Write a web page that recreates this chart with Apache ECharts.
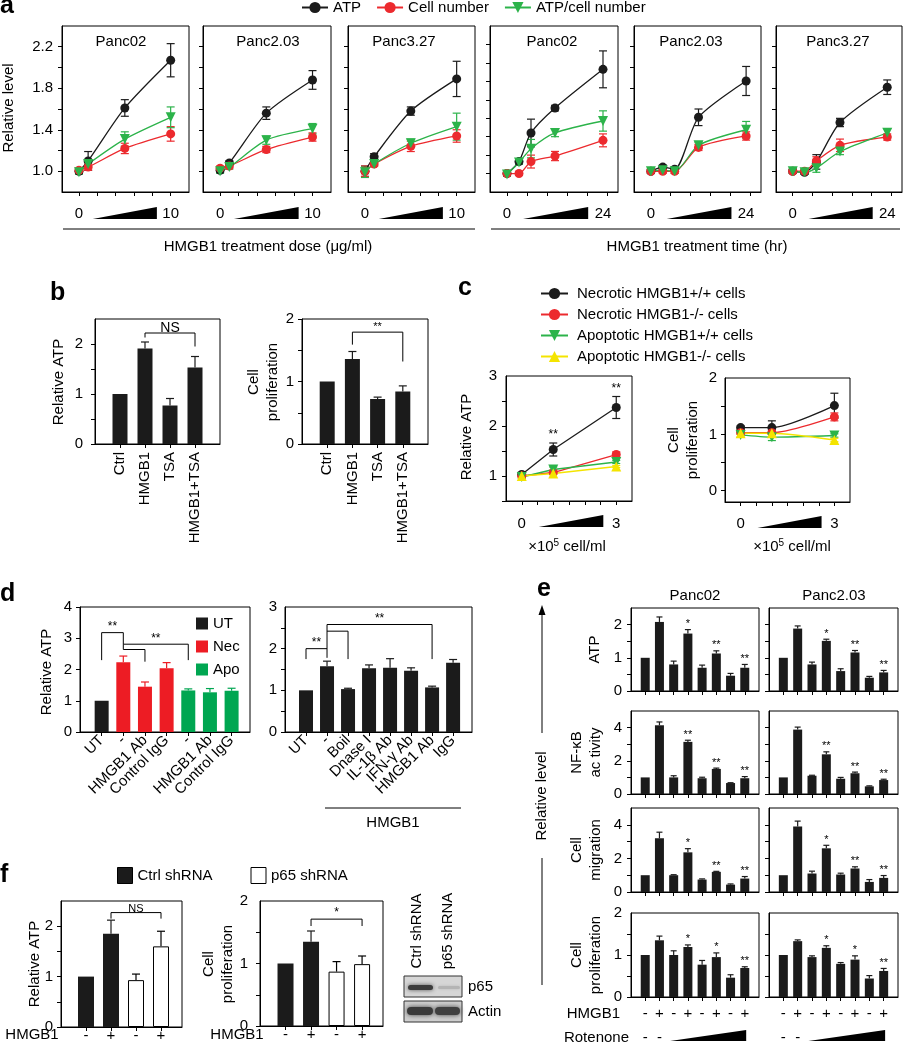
<!DOCTYPE html>
<html>
<head>
<meta charset="utf-8">
<script src="https://cdn.jsdelivr.net/npm/echarts@6/dist/echarts.min.js"></script>
<style>
  html, body { margin: 0; padding: 0; background: #fff; }
  #chart { width: 904px; height: 1050px; }
</style>
</head>
<body>
<div id="chart"></div>
<script>
// ---------- data ----------
// a: dose (ug/ml) and time (hr) course, one row per cell line
const doseX = [0, 1, 5, 10];
const timeX = [0, 3, 6, 12, 24];
const aCellLines = ['Panc02', 'Panc2.03', 'Panc3.27'];
const doseTicks = [0, 2, 4, 6, 8, 10];
const timeTicks = [0, 5, 10, 15, 20, 25];
const aYTicks = [1.0, 1.2, 1.4, 1.6, 1.8, 2.0, 2.2, 2.4];
const aYLabels = ['1.0', '1.4', '1.8', '2.2'];

const doseAtp = [[1.00, 1.10, 1.61, 2.07], [1.01, 1.08, 1.56, 1.88], [1.00, 1.14, 1.58, 1.89]];
const doseAtpErr = [[0.02, 0.09, 0.08, 0.16], [0.02, 0.02, 0.06, 0.09], [0.05, 0.03, 0.04, 0.17]];
const doseCell = [[1.01, 1.04, 1.22, 1.36], [1.03, 1.05, 1.21, 1.33], [1.00, 1.07, 1.24, 1.34]];
const doseCellErr = [[0.02, 0.03, 0.05, 0.07], [0.02, 0.02, 0.03, 0.04], [0.05, 0.02, 0.05, 0.06]];
const doseRatio = [[0.99, 1.07, 1.31, 1.52], [1.00, 1.04, 1.30, 1.41], [0.99, 1.07, 1.27, 1.43]];
const doseRatioErr = [[0.02, 0.03, 0.07, 0.10], [0.02, 0.02, 0.04, 0.05], [0.05, 0.02, 0.04, 0.13]];

const timeAtp = [[1.00, 1.13, 1.44, 1.71, 2.13], [1.00, 1.04, 1.02, 1.52, 1.87], [1.00, 0.99, 1.09, 1.47, 1.81]];
const timeAtpErr = [[0.02, 0.03, 0.15, 0.03, 0.20], [0.02, 0.02, 0.02, 0.08, 0.14], [0.02, 0.02, 0.07, 0.04, 0.07]];
const timeCell = [[1.00, 1.00, 1.13, 1.19, 1.36], [1.00, 1.00, 1.00, 1.23, 1.34], [1.00, 1.00, 1.10, 1.25, 1.33]];
const timeCellErr = [[0.02, 0.02, 0.07, 0.05, 0.07], [0.02, 0.02, 0.02, 0.03, 0.04], [0.02, 0.02, 0.04, 0.06, 0.03]];
const timeRatio = [[0.99, 1.12, 1.27, 1.44, 1.57], [1.00, 1.01, 1.00, 1.25, 1.40], [1.00, 0.99, 1.03, 1.19, 1.37]];
const timeRatioErr = [[0.02, 0.02, 0.10, 0.04, 0.11], [0.02, 0.02, 0.02, 0.03, 0.08], [0.02, 0.02, 0.04, 0.03, 0.04]];

// b: TSA
const bGroups = ['Ctrl', 'HMGB1', 'TSA', 'HMGB1+TSA'];
const bAtp = [1.0, 1.91, 0.77, 1.53];
const bAtpErr = [0, 0.13, 0.14, 0.22];
const bProlif = [1.0, 1.36, 0.72, 0.84];
const bProlifErr = [0, 0.12, 0.03, 0.09];

// c: dead cells, x10^5 cell/ml
const cX = [0, 1, 3];
const cNames = ['Necrotic HMGB1+/+ cells', 'Necrotic HMGB1-/- cells', 'Apoptotic HMGB1+/+ cells', 'Apoptotic HMGB1-/- cells'];
const cAtp = [[1.03, 1.53, 2.37], [1.00, 1.07, 1.43], [0.98, 1.13, 1.28], [1.00, 1.05, 1.19]];
const cAtpErr = [[0.03, 0.13, 0.22], [0.02, 0.03, 0.05], [0.03, 0.05, 0.03], [0.02, 0.02, 0.02]];
const cProlif = [[1.12, 1.12, 1.51], [1.03, 1.03, 1.31], [0.99, 0.95, 0.98], [1.02, 1.02, 0.90]];
const cProlifErr = [[0.03, 0.12, 0.22], [0.02, 0.03, 0.07], [0.04, 0.06, 0.03], [0.02, 0.02, 0.03]];
const cAtpStars = ['', '**', '**'];

// d: blocking
const dLeftLabels = ['UT', '-', 'HMGB1 Ab', 'Control IgG', '-', 'HMGB1 Ab', 'Control IgG'];
const dLeftGroup = ['UT', 'Nec', 'Nec', 'Nec', 'Apo', 'Apo', 'Apo'];
const dLeftAtp = [1.0, 2.23, 1.45, 2.04, 1.33, 1.27, 1.32];
const dLeftErr = [0, 0.20, 0.15, 0.18, 0.05, 0.12, 0.08];
const dRightLabels = ['UT', '-', 'Boil', 'Dnase I', 'IL-1β Ab', 'IFN-γ Ab', 'HMGB1 Ab', 'IgG'];
const dRightAtp = [1.0, 1.58, 1.03, 1.53, 1.54, 1.47, 1.07, 1.66];
const dRightErr = [0, 0.12, 0.02, 0.08, 0.22, 0.07, 0.03, 0.08];

// e: rotenone, Panc02 / Panc2.03
const eCellLines = ['Panc02', 'Panc2.03'];
const eRowNames = ['ATP', 'NF-κB\nac tivity', 'Cell\nmigration', 'Cell\nproliferation'];
const eHmgb1 = ['-', '+', '-', '+', '-', '+', '-', '+'];
const eRotenone = ['-', '-', '', '', '', '', '', ''];
const eAtp02 = [1.0, 2.08, 0.80, 1.73, 0.70, 1.13, 0.46, 0.70];
const eAtp02Err = [0, 0.15, 0.10, 0.12, 0.08, 0.08, 0.07, 0.10];
const eAtp203 = [1.0, 1.88, 0.80, 1.51, 0.60, 1.16, 0.40, 0.56];
const eAtp203Err = [0, 0.08, 0.07, 0.05, 0.07, 0.06, 0.04, 0.06];
const eNfkb02 = [1.0, 4.14, 1.00, 3.14, 0.95, 1.51, 0.66, 0.95];
const eNfkb02Err = [0, 0.20, 0.10, 0.10, 0.06, 0.05, 0.02, 0.10];
const eNfkb203 = [1.0, 3.88, 1.10, 2.39, 0.92, 1.25, 0.46, 0.84];
const eNfkb203Err = [0, 0.15, 0.03, 0.15, 0.08, 0.07, 0.03, 0.05];
const eMig02 = [1.0, 3.20, 1.00, 2.36, 0.74, 1.20, 0.44, 0.80];
const eMig02Err = [0, 0.36, 0.03, 0.22, 0.04, 0.03, 0.04, 0.12];
const eMig203 = [1.0, 3.90, 1.10, 2.60, 1.04, 1.40, 0.60, 0.84];
const eMig203Err = [0, 0.32, 0.14, 0.18, 0.08, 0.10, 0.14, 0.14];
const ePro02 = [1.0, 1.35, 1.00, 1.19, 0.77, 0.95, 0.46, 0.69];
const ePro02Err = [0, 0.10, 0.10, 0.05, 0.10, 0.10, 0.07, 0.03];
const ePro203 = [1.0, 1.33, 0.95, 1.17, 0.79, 0.89, 0.44, 0.62];
const ePro203Err = [0, 0.03, 0.03, 0.05, 0.03, 0.09, 0.07, 0.06];
const eStarsAtp = ['', '', '', '*', '', '**', '', '**'];
const eStarsNfkb = ['', '', '', '**', '', '**', '', '**'];
const eStarsMig = ['', '', '', '*', '', '**', '', '**'];
const eStarsPro = ['', '', '', '*', '', '*', '', '**'];

// f: p65 knockdown
const fHmgb1 = ['-', '+', '-', '+'];
const fAtp = [1.0, 1.85, 0.93, 1.60];
const fAtpErr = [0, 0.27, 0.12, 0.30];
const fProlif = [1.0, 1.35, 0.87, 0.99];
const fProlifErr = [0, 0.17, 0.16, 0.13];

// ---------- helpers ----------
const FONT = '"Liberation Sans", Arial, Helvetica, sans-serif';
const BLACK = '#1b1b1b';
const RED = '#ec2a2e';
const GREEN = '#2cb34a';
const YELLOW = '#f4e400';
const D_RED = '#ed1c24';
const D_GREEN = '#00a651';

const grids = [], xAxes = [], yAxes = [], series = [], graphic = [];

function makeAxis (gi, o) {
	const labels = o.labels || [];
	const ax = {
		type: 'value', gridIndex: gi, min: o.min, max: o.max,
		axisLine: {show: true, onZero: false, lineStyle: {color: '#000', width: 1}},
		axisTick: {show: true, length: 4, lineStyle: {color: '#000', width: 1}},
		axisLabel: {
			show: labels.length > 0, margin: o.margin, rotate: o.rotate || 0,
			fontSize: o.fontSize || 15, fontFamily: FONT, color: '#000',
			formatter: function (v) {
				const p = labels.filter((l) => Math.abs(l[0] - v) < 1e-6)[0];
				return p ? p[1] : '';
			}
		},
		splitLine: {show: false}
	};
	if (o.ticks) ax.axisTick.customValues = o.ticks;
	if (labels.length) ax.axisLabel.customValues = labels.map((l) => l[0]);
	if (o.lineHeight) ax.axisLabel.lineHeight = o.lineHeight;
	return ax;
}

function addGrid (box, xo, yo) {
	const gi = grids.length;
	grids.push({left: box[0], top: box[1], width: box[2], height: box[3], show: true,
		borderColor: '#000', borderWidth: 1, backgroundColor: 'rgba(0,0,0,0)'});
	xAxes.push(makeAxis(gi, xo));
	yAxes.push(makeAxis(gi, yo));
	return gi;
}

function errRender (upOnly, cap) {
	return function (params, api) {
		const x = api.value(0), y = api.value(1), e = api.value(2);
		if (!e) return null;
		const hi = api.coord([x, y + e]);
		const lo = api.coord([x, upOnly ? y : y - e]);
		const st = {stroke: api.visual('color'), lineWidth: 1.2, fill: null};
		const kids = [
			{type: 'line', shape: {x1: hi[0], y1: hi[1], x2: lo[0], y2: lo[1]}, style: st},
			{type: 'line', shape: {x1: hi[0] - cap, y1: hi[1], x2: hi[0] + cap, y2: hi[1]}, style: st}
		];
		if (!upOnly) kids.push({type: 'line', shape: {x1: lo[0] - cap, y1: lo[1], x2: lo[0] + cap, y2: lo[1]}, style: st});
		return {type: 'group', children: kids};
	};
}

function lineGroup (gi, name, xs, ys, errs, color, symbol, rotate, smooth) {
	series.push({type: 'custom', name: 'err', xAxisIndex: gi, yAxisIndex: gi, silent: true,
		renderItem: errRender(false, 4), itemStyle: {color},
		data: xs.map((x, k) => [x, ys[k], errs[k]])});
	series.push({type: 'line', name, xAxisIndex: gi, yAxisIndex: gi,
		data: xs.map((x, k) => [x, ys[k]]),
		symbol, symbolSize: symbol === 'circle' ? 9 : 10, symbolRotate: rotate, smooth: smooth || false,
		showAllSymbol: true, itemStyle: {color, borderWidth: 0}, lineStyle: {color, width: 1.3}});
}

function barGroup (gi, name, xs, ys, errs, color, width, cap, border) {
	series.push({type: 'bar', name, xAxisIndex: gi, yAxisIndex: gi, barWidth: width, barGap: '-100%',
		data: xs.map((x, k) => [x, ys[k]]),
		itemStyle: {color, borderColor: border || color, borderWidth: border ? 1 : 0}});
	series.push({type: 'custom', name: 'err', xAxisIndex: gi, yAxisIndex: gi, silent: true,
		renderItem: errRender(true, cap), itemStyle: {color: border || color},
		data: xs.map((x, k) => [x, ys[k], errs[k]])});
}

// [x1, x2, yTop, yLeftEnd, yRightEnd, label]
function bracket (gi, items, fontSize) {
	series.push({type: 'custom', name: 'bracket', xAxisIndex: gi, yAxisIndex: gi, silent: true, z: 5,
		data: items.map((b) => b.slice(0, 5)),
		renderItem: function (params, api) {
			const b = items[params.dataIndex];
			const l = api.coord([b[0], b[3]]), tl = api.coord([b[0], b[2]]);
			const tr = api.coord([b[1], b[2]]), r = api.coord([b[1], b[4]]);
			const kids = [{type: 'polyline', shape: {points: [l, tl, tr, r]}, style: {stroke: '#000', lineWidth: 1, fill: null}}];
			if (b[5]) {
				kids.push({type: 'text', x: (tl[0] + tr[0]) / 2, y: tl[1] + (/[A-Z]/.test(b[5]) ? 2 : 0),
					style: {text: b[5], fontSize, fontFamily: FONT, fill: '#000', align: 'center', verticalAlign: 'bottom'}});
			}
			return {type: 'group', children: kids};
		}});
}

function stars (gi, xs, tops, labels, gap, size) {
	series.push({type: 'custom', name: 'stars', xAxisIndex: gi, yAxisIndex: gi, silent: true, z: 5,
		data: xs.map((x, k) => [x, tops[k]]),
		renderItem: function (params, api) {
			const s = labels[params.dataIndex];
			if (!s) return null;
			const p = api.coord([api.value(0), api.value(1)]);
			return {type: 'text', x: p[0], y: p[1] - gap,
				style: {text: s, fontSize: size || 12, fontFamily: FONT, fill: '#000', align: 'center', verticalAlign: 'bottom'}};
		}});
}

// black ramp under the x axis, from x0 to x1, d0..d1 px below the plot
function wedge (gi, x0, x1, d0, d1) {
	series.push({type: 'custom', name: 'wedge', xAxisIndex: gi, yAxisIndex: gi, silent: true,
		data: [[x0, x1]],
		renderItem: function (params, api) {
			const bottom = params.coordSys.y + params.coordSys.height;
			const a = api.coord([x0, 1])[0], b = api.coord([x1, 1])[0];
			return {type: 'polygon', shape: {points: [[a, bottom + d1], [b, bottom + d1], [b, bottom + d0]]}, style: {fill: '#000'}};
		}});
}

function hText (x, y, text, o) {
	graphic.push({type: 'text', x, y, style: Object.assign({text, fontSize: 15, fontFamily: FONT, fill: '#000',
		align: 'center', verticalAlign: 'middle'}, o || {})});
}
function vText (x, y, text, size) {
	graphic.push({type: 'text', x, y, rotation: Math.PI / 2, style: {text, fontSize: size || 15, fontFamily: FONT,
		fill: '#000', align: 'center', verticalAlign: 'middle', lineHeight: 19}});
}
function hLine (x1, y1, x2, y2) {
	graphic.push({type: 'line', shape: {x1, y1, x2, y2}, style: {stroke: '#000', lineWidth: 1}});
}
function letter (x, y, s) {
	hText(x, y, s, {fontSize: 25, fontWeight: 'bold', align: 'left', verticalAlign: 'bottom'});
}
const pairs = (vals, fmt) => vals.map((v) => [v, fmt ? fmt(v) : String(v)]);
const seq = (n) => Array.from({length: n}, (_, i) => i + 1);

// ---------- a ----------
const aBoxes = [[62, 26, 127, 166], [203, 26, 128, 166], [348, 26, 127, 166],
	[490, 26, 128, 166], [634, 26, 127, 166], [776, 26, 126, 166]];
const aTitleX = [121, 268, 404, 552, 691, 838];
aBoxes.forEach(function (box, k) {
	const isTime = k >= 3;
	const c = k % 3;
	const yMax = k === 3 ? 2.6 : 2.4;
	const gi = addGrid(box,
		isTime ? {min: -4.25, max: 27.75, ticks: timeTicks, labels: [[0, '0'], [24, '24']], margin: 14}
			: {min: -1.85, max: 12, ticks: doseTicks, labels: [[0, '0'], [10, '10']], margin: 14},
		{min: 0.8, max: yMax, ticks: aYTicks.filter((v) => v < yMax - 0.1),
			labels: k === 0 ? aYLabels.map((s) => [parseFloat(s), s]) : [], margin: 9});
	const xs = isTime ? timeX : doseX;
	lineGroup(gi, 'ATP', xs, (isTime ? timeAtp : doseAtp)[c], (isTime ? timeAtpErr : doseAtpErr)[c], BLACK, 'circle', 0, 0.25);
	lineGroup(gi, 'Cell number', xs, (isTime ? timeCell : doseCell)[c], (isTime ? timeCellErr : doseCellErr)[c], RED, 'circle', 0, 0.25);
	lineGroup(gi, 'ATP/cell number', xs, (isTime ? timeRatio : doseRatio)[c], (isTime ? timeRatioErr : doseRatioErr)[c], GREEN, 'triangle', 180, 0.25);
	if (isTime) wedge(gi, 4, 20.3, 15, 27); else wedge(gi, 1.5, 8.5, 15, 27);
	hText(aTitleX[k], 42, aCellLines[c]);
});
letter(0, 19, 'a');
vText(9, 108, 'Relative level');
hLine(63, 229, 475, 229);
hLine(491, 229, 900, 229);
hText(268, 247, 'HMGB1 treatment dose (μg/ml)');
hText(697, 247, 'HMGB1 treatment time (hr)');

// ---------- b ----------
const bx = [1, 2, 3, 4];
const bGi1 = addGrid([95, 319, 125, 125],
	{min: 0, max: 5, ticks: bx, labels: bGroups.map((g, i) => [i + 1, g]), rotate: 90, margin: 8},
	{min: 0, max: 2.5, ticks: [0, 0.5, 1, 1.5, 2], labels: pairs([0, 1, 2]), margin: 12});
barGroup(bGi1, 'b-atp', bx, bAtp, bAtpErr, BLACK, 15, 4);
bracket(bGi1, [[2, 4, 2.22, 2.13, 1.95, 'NS']], 14);
const bGi2 = addGrid([302, 319, 126, 125],
	{min: 0, max: 5, ticks: bx, labels: bGroups.map((g, i) => [i + 1, g]), rotate: 90, margin: 8},
	{min: 0, max: 2, ticks: [0, 0.5, 1, 1.5, 2], labels: pairs([0, 1, 2]), margin: 8});
barGroup(bGi2, 'b-pro', bx, bProlif, bProlifErr, BLACK, 15, 4);
bracket(bGi2, [[2, 4, 1.79, 1.59, 1.32, '**']], 11);
letter(50, 306, 'b');
vText(59, 382, 'Relative ATP');
vText(263, 382, 'Cell\nproliferation');

// ---------- c ----------
const cColors = [BLACK, RED, GREEN, YELLOW];
const cSymbols = [['circle', 0], ['circle', 0], ['triangle', 180], ['triangle', 0]];
const cGi1 = addGrid([506, 376, 126, 125],
	{min: -0.5, max: 3.5, ticks: [0, 0.5, 1, 1.5, 2, 2.5, 3], labels: [[0, '0'], [3, '3']], margin: 15},
	{min: 0.5, max: 3, ticks: [0.5, 1, 1.5, 2, 2.5], labels: pairs([1, 2, 3]), margin: 9});
const cGi2 = addGrid([725, 378, 125, 124],
	{min: -0.5, max: 3.5, ticks: [0, 0.5, 1, 1.5, 2, 2.5, 3], labels: [[0, '0'], [3, '3']], margin: 14},
	{min: -0.2, max: 2, ticks: [0, 0.5, 1, 1.5], labels: pairs([0, 1, 2]), margin: 8});
cNames.forEach(function (name, i) {
	lineGroup(cGi1, name, cX, cAtp[i], cAtpErr[i], cColors[i], cSymbols[i][0], cSymbols[i][1], false);
	lineGroup(cGi2, name, cX, cProlif[i], cProlifErr[i], cColors[i], cSymbols[i][0], cSymbols[i][1], 0.25);
});
stars(cGi1, cX, cAtp[0].map((v, k) => v + cAtpErr[0][k]), cAtpStars, 2, 12);
wedge(cGi1, 0.54, 2.59, 14, 26);
wedge(cGi2, 0.54, 2.59, 14, 26);
letter(458, 301, 'c');
vText(467, 437, 'Relative ATP');
vText(683, 440, 'Cell\nproliferation');
const cellMl = {rich: {sup: {fontSize: 10, fontFamily: FONT, padding: [0, 0, 8, 0]}}};
hText(567, 547, '×10{sup|5} cell/ml', cellMl);
hText(792, 547, '×10{sup|5} cell/ml', cellMl);

// ---------- d ----------
const dGi1 = addGrid([80, 607, 170, 125],
	{min: 0, max: 7.85, ticks: seq(7), labels: dLeftLabels.map((s, i) => [i + 1, s]), rotate: 45, margin: 6},
	{min: 0, max: 4, ticks: [0, 1, 2, 3, 4], labels: pairs([0, 1, 2, 3, 4]), margin: 8});
const dColors = {UT: BLACK, Nec: D_RED, Apo: D_GREEN};
['UT', 'Nec', 'Apo'].forEach(function (g) {
	const idx = dLeftGroup.map((v, i) => (v === g ? i : -1)).filter((i) => i >= 0);
	barGroup(dGi1, g, idx.map((i) => i + 1), idx.map((i) => dLeftAtp[i]), idx.map((i) => dLeftErr[i]), dColors[g], 14, 4);
});
bracket(dGi1, [[1, 2, 3.18, 2.30, 2.81, '**'], [2, 5, 2.81, 2.64, 2.30, '**'], [2, 3, 2.64, 2.64, 2.25, '']], 12);
const dGi2 = addGrid([285, 607, 187, 125],
	{min: 0, max: 8.9, ticks: seq(8), labels: dRightLabels.map((s, i) => [i + 1, s]), rotate: 45, margin: 6},
	{min: 0, max: 3, ticks: [0, 0.5, 1, 1.5, 2, 2.5], labels: pairs([0, 1, 2, 3]), margin: 8});
barGroup(dGi2, 'd-right', seq(8), dRightAtp, dRightErr, BLACK, 14, 4);
bracket(dGi2, [[1, 2, 2.0, 1.75, 2.0, '**'], [2, 7, 2.58, 1.78, 1.75, '**'], [2, 3, 2.42, 2.42, 1.75, '']], 12);
letter(0, 607, 'd');
vText(47, 672, 'Relative ATP');
hLine(325, 808, 461, 808);
hText(393, 823, 'HMGB1');

// ---------- e ----------
const eCols = [[631, 128], [769, 129]];
const eRows = [
	{top: 608, h: 83, max: 2.5, ticks: [0, 0.5, 1, 1.5, 2], labels: pairs([0, 1, 2])},
	{top: 711, h: 83, max: 5, ticks: [0, 1, 2, 3, 4], labels: pairs([0, 2, 4])},
	{top: 808, h: 84, max: 5, ticks: [0, 1, 2, 3, 4], labels: pairs([0, 2, 4])},
	{top: 913, h: 84, max: 2, ticks: [0, 0.5, 1, 1.5], labels: pairs([0, 1, 2])}
];
const eValues = [[eAtp02, eAtp203], [eNfkb02, eNfkb203], [eMig02, eMig203], [ePro02, ePro203]];
const eErrors = [[eAtp02Err, eAtp203Err], [eNfkb02Err, eNfkb203Err], [eMig02Err, eMig203Err], [ePro02Err, ePro203Err]];
const eStars = [eStarsAtp, eStarsNfkb, eStarsMig, eStarsPro];
const ex = seq(8);
eRows.forEach(function (row, r) {
	eCols.forEach(function (col, c) {
		const last = r === eRows.length - 1;
		const gi = addGrid([col[0], row.top, col[1], row.h],
			{min: 0, max: 9, ticks: ex, labels: last ? ex.map((x) => [x, eHmgb1[x - 1] + '\n' + (eRotenone[x - 1] || ' ')]) : [],
				margin: 5, lineHeight: 24},
			{min: 0, max: row.max, ticks: row.ticks, labels: c === 0 ? row.labels : [], margin: 9});
		const ys = eValues[r][c], es = eErrors[r][c];
		barGroup(gi, 'e-bars', ex, ys, es, BLACK, 9, 3);
		stars(gi, ex, ys.map((v, k) => v + es[k]), eStars[r], 0, 11);
		if (last) wedge(gi, 2.75, 8.1, 33, 44);
	});
	vText(r === 0 ? 595 : 586, row.top + row.h / 2, eRowNames[r]);
});
hText(695, 596, eCellLines[0]);
hText(834, 596, eCellLines[1]);
hText(620, 1014, 'HMGB1', {align: 'right'});
hText(629, 1038, 'Rotenone', {align: 'right'});
letter(537, 602, 'e');
hLine(542, 614, 542, 733);
graphic.push({type: 'polygon', shape: {points: [[542, 605], [538.5, 615], [545.5, 615]]}, style: {fill: '#000'}});
vText(542, 796, 'Relative level');
hLine(542, 858, 542, 985);

// ---------- f ----------
const fx = [1, 2, 3, 4];
const fGi1 = addGrid([61, 901, 121, 126],
	{min: 0, max: 4.84, ticks: fx, labels: fHmgb1.map((s, i) => [i + 1, s]), margin: 1},
	{min: 0, max: 2.5, ticks: [0, 0.5, 1, 1.5, 2], labels: pairs([0, 1, 2]), margin: 8});
barGroup(fGi1, 'Ctrl shRNA', [1, 2], fAtp.slice(0, 2), fAtpErr.slice(0, 2), BLACK, 16, 4);
barGroup(fGi1, 'p65 shRNA', [3, 4], fAtp.slice(2), fAtpErr.slice(2), '#fff', 16, 4, '#000');
bracket(fGi1, [[2, 4, 2.27, 2.15, 2.15, 'NS']], 11);
const fGi2 = addGrid([260, 901, 123, 125],
	{min: 0, max: 4.82, ticks: fx, labels: fHmgb1.map((s, i) => [i + 1, s]), margin: 1},
	{min: 0, max: 2, ticks: [0, 0.5, 1, 1.5], labels: pairs([0, 1, 2]), margin: 12});
barGroup(fGi2, 'Ctrl shRNA', [1, 2], fProlif.slice(0, 2), fProlifErr.slice(0, 2), BLACK, 16, 4);
barGroup(fGi2, 'p65 shRNA', [3, 4], fProlif.slice(2), fProlifErr.slice(2), '#fff', 16, 4, '#000');
bracket(fGi2, [[2, 4, 1.71, 1.60, 1.60, '*']], 12);
letter(0, 888, 'f');
vText(35, 964, 'Relative ATP');
vText(218, 964, 'Cell\nproliferation');
hText(32, 1035, 'HMGB1');
hText(237, 1035, 'HMGB1');

// western blot (picture, not data)
graphic.push(
	{type: 'rect', shape: {x: 404, y: 976, width: 58, height: 21}, style: {fill: '#d6d6d6', stroke: '#333', lineWidth: 1}},
	{type: 'rect', shape: {x: 408, y: 985, width: 25, height: 5, r: 2.5}, style: {fill: '#3c3c3c', shadowBlur: 4, shadowColor: '#555'}},
	{type: 'rect', shape: {x: 438, y: 986, width: 22, height: 3, r: 1.5}, style: {fill: '#b4b4b4', shadowBlur: 3, shadowColor: '#bbb'}},
	{type: 'rect', shape: {x: 404, y: 1001, width: 58, height: 21}, style: {fill: '#cfcfcf', stroke: '#333', lineWidth: 1}},
	{type: 'rect', shape: {x: 407, y: 1007, width: 26, height: 8, r: 4}, style: {fill: '#3a3a3a', shadowBlur: 5, shadowColor: '#444'}},
	{type: 'rect', shape: {x: 435, y: 1007, width: 25, height: 8, r: 4}, style: {fill: '#3f3f3f', shadowBlur: 5, shadowColor: '#444'}}
);
vText(417, 931, 'Ctrl shRNA');
vText(448, 931, 'p65 shRNA');
hText(468, 987, 'p65', {align: 'left'});
hText(468, 1012, 'Actin', {align: 'left'});

// ---------- chart ----------
const legendText = {fontSize: 15, fontFamily: FONT, color: '#000'};
const option = {
	animation: false,
	backgroundColor: '#fff',
	grid: grids,
	xAxis: xAxes,
	yAxis: yAxes,
	legend: [
		{data: ['ATP', 'Cell number', 'ATP/cell number'], left: 301, top: 0, padding: 0, itemWidth: 26, itemHeight: 14,
			itemGap: 15, selectedMode: false, textStyle: legendText},
		{data: cNames, orient: 'vertical', left: 540, top: 286, padding: 0, itemWidth: 27, itemHeight: 14, itemGap: 6,
			selectedMode: false, textStyle: Object.assign({padding: [0, 0, 0, 4]}, legendText)},
		{data: ['UT', 'Nec', 'Apo'], orient: 'vertical', left: 196, top: 616, padding: 0, icon: 'rect', itemWidth: 12,
			itemHeight: 12, itemGap: 8, selectedMode: false, textStyle: legendText},
		{data: ['Ctrl shRNA', 'p65 shRNA'], left: 117, top: 867, padding: 0, icon: 'rect', itemWidth: 15, itemHeight: 16,
			itemGap: 38, selectedMode: false, itemStyle: {borderColor: '#000', borderWidth: 1}, textStyle: legendText}
	],
	series,
	graphic: {elements: graphic}
};

const myChart = echarts.init(document.getElementById('chart'));
option && myChart.setOption(option);
window.addEventListener('resize', function () {
	myChart.resize();
});
</script>
</body>
</html>
